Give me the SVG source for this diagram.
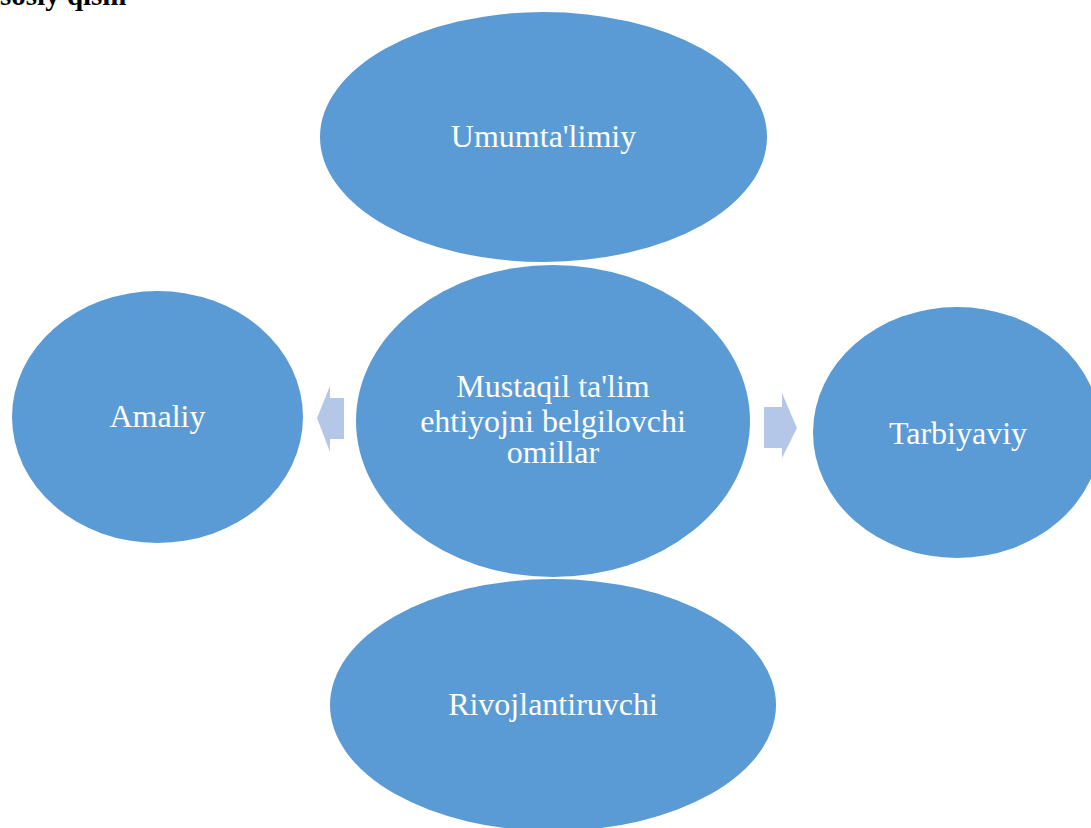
<svg xmlns="http://www.w3.org/2000/svg" width="1091" height="828" viewBox="0 0 1091 828">
<style>
.node{fill:#5B9BD5;}
.lbl{font-family:"Liberation Serif","Times New Roman",serif;font-size:32px;fill:#FFFFFF;text-anchor:middle;}
.arr{fill:#B4C7E7;}
.title{font-family:"Liberation Serif","Times New Roman",serif;font-size:29px;font-weight:bold;fill:#000000;}
</style>
<rect width="1091" height="828" fill="#FFFFFF"/>
<text class="title" x="0" y="5">sosiy qism</text>
<g id="connectors">
<polygon class="arr" points="344,398 330,398 330,386 317,418 330,452 330,439 344,439"/>
<polygon class="arr" points="764,407 782,407 782,393 797,428 782,458 782,448 764,448"/>
</g>
<g id="node-top">
<ellipse class="node" cx="543.5" cy="137" rx="223.5" ry="125"/>
<text class="lbl" x="543.5" y="147">Umumta'limiy</text>
</g>
<g id="node-center">
<ellipse class="node" cx="553" cy="421" rx="197" ry="156"/>
<text class="lbl" x="553" y="397">Mustaqil ta'lim</text>
<text class="lbl" x="553" y="432">ehtiyojni belgilovchi</text>
<text class="lbl" x="553" y="463">omillar</text>
</g>
<g id="node-left">
<ellipse class="node" cx="157.5" cy="417" rx="145.5" ry="126"/>
<text class="lbl" x="157.5" y="427">Amaliy</text>
</g>
<g id="node-right">
<ellipse class="node" cx="957" cy="432.5" rx="144" ry="125.5"/>
<text class="lbl" x="958" y="444">Tarbiyaviy</text>
</g>
<g id="node-bottom">
<ellipse class="node" cx="553" cy="705" rx="223" ry="126"/>
<text class="lbl" x="553" y="715">Rivojlantiruvchi</text>
</g>
</svg>
